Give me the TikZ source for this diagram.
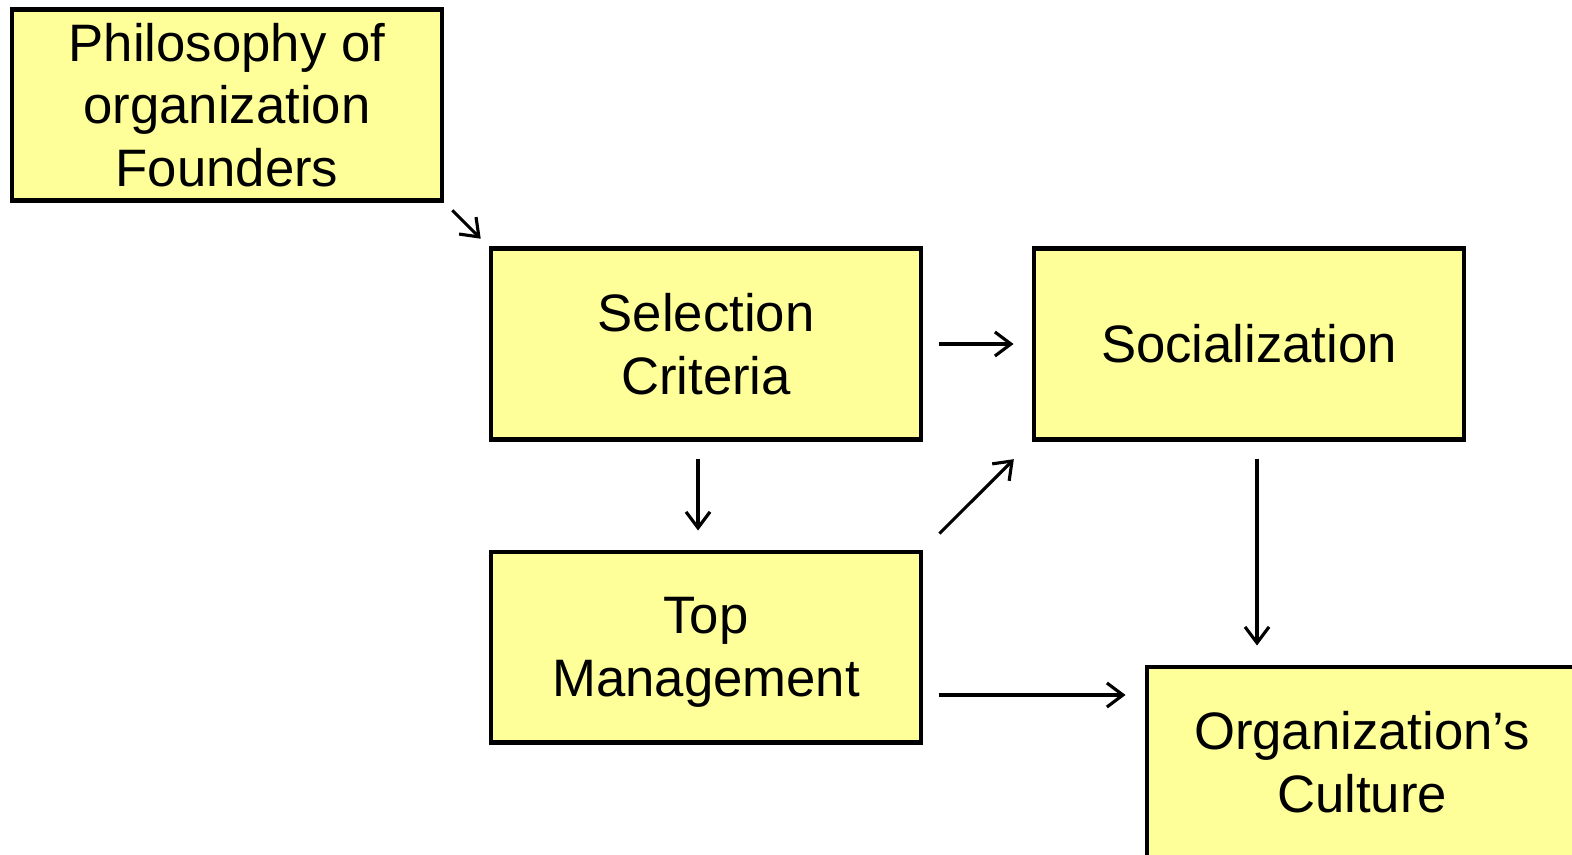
\documentclass[tikz,border=0pt]{standalone}
\usepackage{fontspec}
\setmainfont{Liberation Sans}
\usetikzlibrary{arrows.meta, calc}
\definecolor{boxyellow}{HTML}{FFFF99}

\begin{document}
\begin{tikzpicture}[x=0.02cm, y=-0.02cm,
	block/.style={shape=rectangle, draw, fill=boxyellow, line width=2.3pt, minimum width=8.62cm, minimum height=3.82cm, align=center, inner sep=0pt, font=\fontsize{30}{35.7}\selectfont},
	flow/.style={-{Straight Barb[length=0.32cm, width=0.48cm, line width=1.8pt]}, line width=1.8pt}]
	\useasboundingbox (0, 0) rectangle (1572, 855);
	% Boxes:
	\node[block] (phil) at (227, 105) {Philosophy of\\organization\\Founders};
	\node[block] (sel) at (706, 344) {Selection\\Criteria};
	\node[block] (soc) at (1249, 344) {Socialization};
	\node[block] (top) at (706, 647) {Top\\\raisebox{0pt}[\height][0pt]{Management}};
	\node[block] (cult) at (1362, 762) {Organization’s\\Culture};
	% Arrows:
	\draw[flow, shorten <=0.22cm, shorten >=0.22cm] (phil.south east) -- (sel.north west);
	\draw[flow, shorten <=0.32cm, shorten >=0.36cm] (sel.east) -- (soc.west);
	\draw[flow, shorten <=0.34cm, shorten >=0.38cm] ($(sel.south)+(-8, 0)$) -- ($(top.north)+(-8, 0)$);
	\draw[flow, shorten <=0.45cm, shorten >=0.5cm] (top.north east) -- (soc.south west);
	\draw[flow, shorten <=0.34cm, shorten >=0.38cm] ($(soc.south)+(8, 0)$) coordinate (s1) -- (s1 |- cult.north);
	\draw[flow, shorten <=0.32cm, shorten >=0.38cm] ($(top.east)+(0, 48)$) coordinate (t1) -- (t1 -| cult.west);
\end{tikzpicture}
\end{document}
